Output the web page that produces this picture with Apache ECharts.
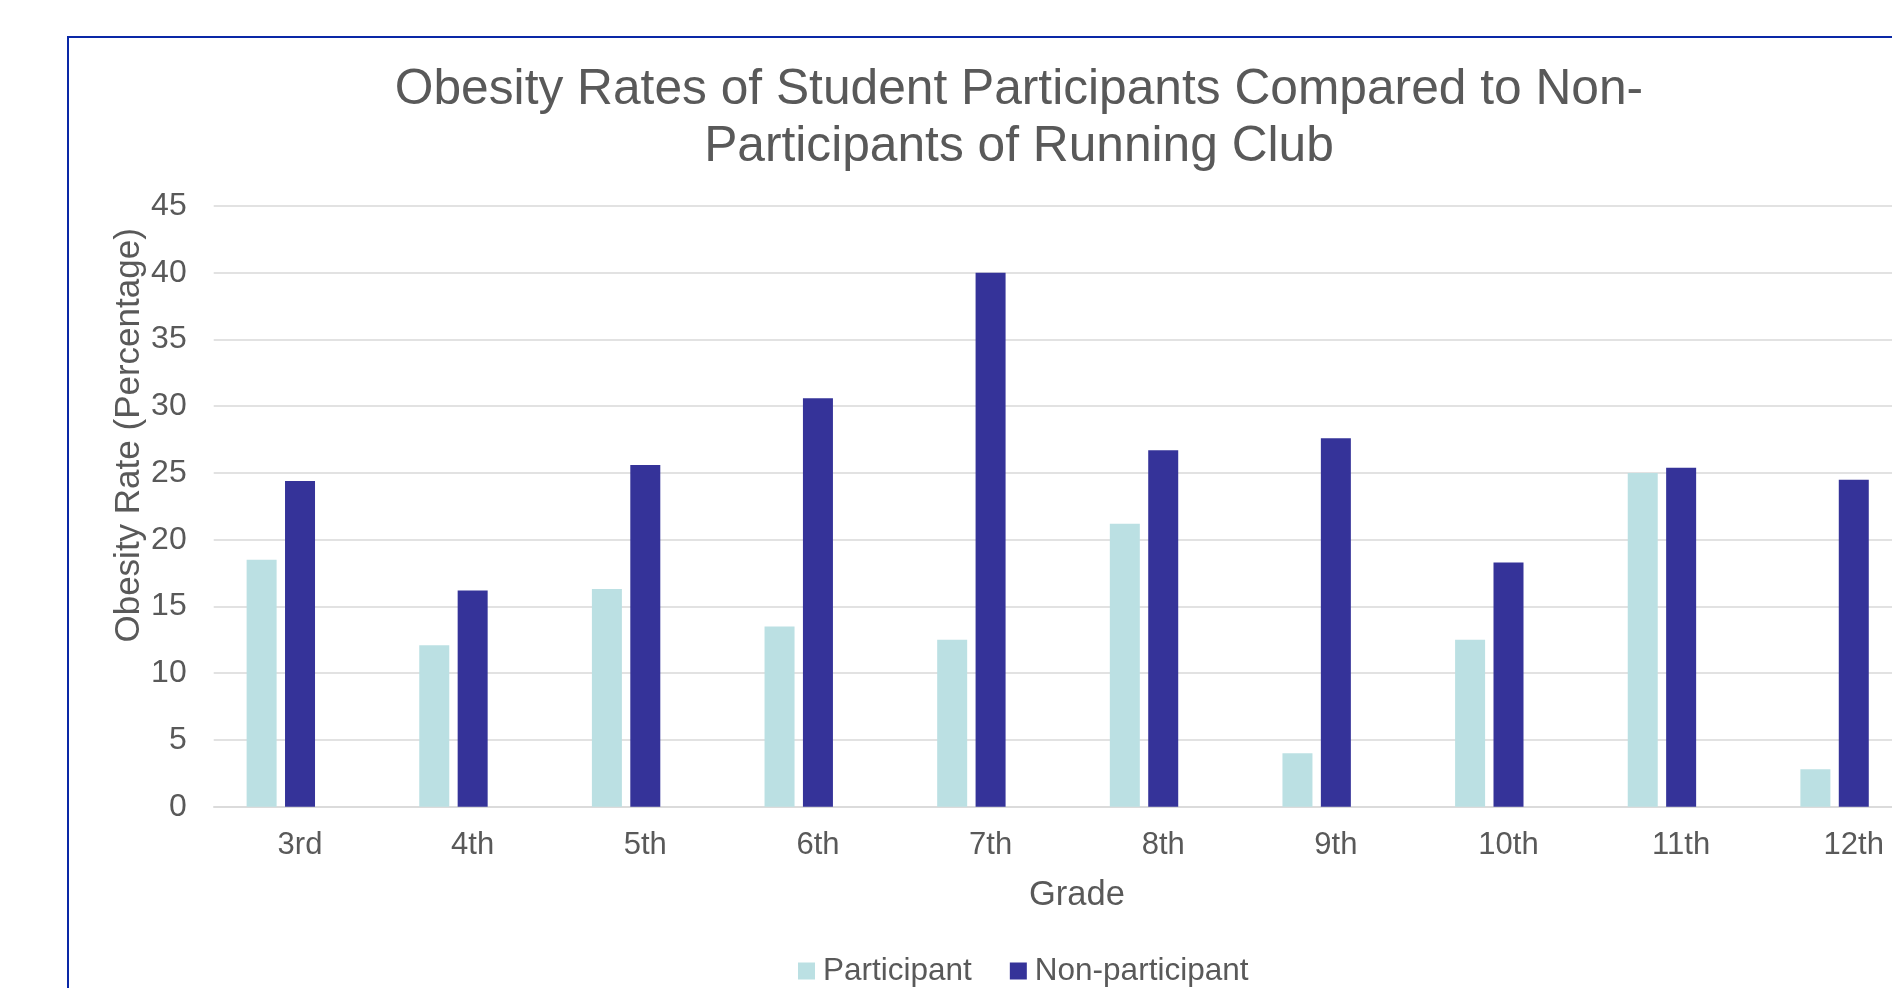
<!DOCTYPE html>
<html>
<head>
<meta charset="utf-8">
<script src="https://cdn.jsdelivr.net/npm/echarts@6/dist/echarts.min.js"></script>
<style>
html,body{margin:0;padding:0;background:#fff;}
#chart{width:1892px;height:988px;}
</style>
</head>
<body>
<div id="chart"></div>
<script>
const grades = ['3rd','4th','5th','6th','7th','8th','9th','10th','11th','12th'];
const participant = [18.5, 12.1, 16.3, 13.5, 12.5, 21.2, 4.0, 12.5, 25.0, 2.8];
const nonParticipant = [24.4, 16.2, 25.6, 30.6, 40.0, 26.7, 27.6, 18.3, 25.4, 24.5];
const emptySeries = [null, null, null, null, null, null, null, null, null, null];
const yTicks = {min: 0, max: 45, interval: 5};

const FONT = '"Liberation Sans", Arial, sans-serif';
const TXT = '#595959';

const chart = echarts.init(document.getElementById('chart'));
chart.setOption({
  animation: false,
  backgroundColor: '#ffffff',
  textStyle: {fontFamily: FONT, color: TXT},
  graphic: [{
    type: 'rect', silent: true, z: -1,
    shape: {x: 68, y: 37, width: 2000, height: 1000},
    style: {fill: 'none', stroke: '#0a28a6', lineWidth: 2}
  }],
  title: {
    text: 'Obesity Rates of Student Participants Compared to Non-\nParticipants of Running Club',
    left: 1019, top: 62, padding: 0,
    textAlign: 'center',
    textStyle: {fontFamily: FONT, fontSize: 49.7, fontWeight: 'normal', color: TXT, lineHeight: 57}
  },
  legend: {
    data: ['Participant', 'Non-participant'],
    left: 798, top: 955, padding: 0,
    icon: 'rect', itemWidth: 17, itemHeight: 17, itemGap: 38,
    textStyle: {fontFamily: FONT, fontSize: 31.5, color: TXT, padding: [0, 0, 0, 3]}
  },
  grid: {left: 213.7, top: 206, width: 1726.4, height: 600.7, containLabel: false, outerBoundsMode: 'none'},
  xAxis: {
    type: 'category', data: grades,
    name: 'Grade', nameLocation: 'middle', nameGap: 71,
    nameTextStyle: {fontFamily: FONT, fontSize: 34.5, color: TXT},
    axisLine: {lineStyle: {color: '#d9d9d9', width: 1.5}},
    axisTick: {show: false},
    axisLabel: {fontFamily: FONT, fontSize: 31, color: TXT, margin: 23}
  },
  yAxis: {
    type: 'value', min: yTicks.min, max: yTicks.max, interval: yTicks.interval,
    name: 'Obesity Rate (Percentage)', nameLocation: 'middle', nameGap: 67, nameMoveOverlap: false,
    nameTextStyle: {fontFamily: FONT, fontSize: 35, color: TXT, padding: [0, 0, 0, 142]},
    axisLine: {show: false}, axisTick: {show: false},
    axisLabel: {fontFamily: FONT, fontSize: 32, color: TXT, margin: 27},
    splitLine: {lineStyle: {color: '#d9d9d9', width: 1.5}}
  },
  series: [
    {name: 'Participant', type: 'bar', data: participant, barWidth: 30, barGap: '28%',
     itemStyle: {color: '#bbe0e3'}},
    {name: 'Non-participant', type: 'bar', data: nonParticipant, barWidth: 30, barGap: '28%',
     itemStyle: {color: '#353399'}},
    {name: 'blank', type: 'bar', data: emptySeries, barWidth: 30, barGap: '28%',
     itemStyle: {color: '#cccccc'}}
  ]
});
</script>
</body>
</html>
